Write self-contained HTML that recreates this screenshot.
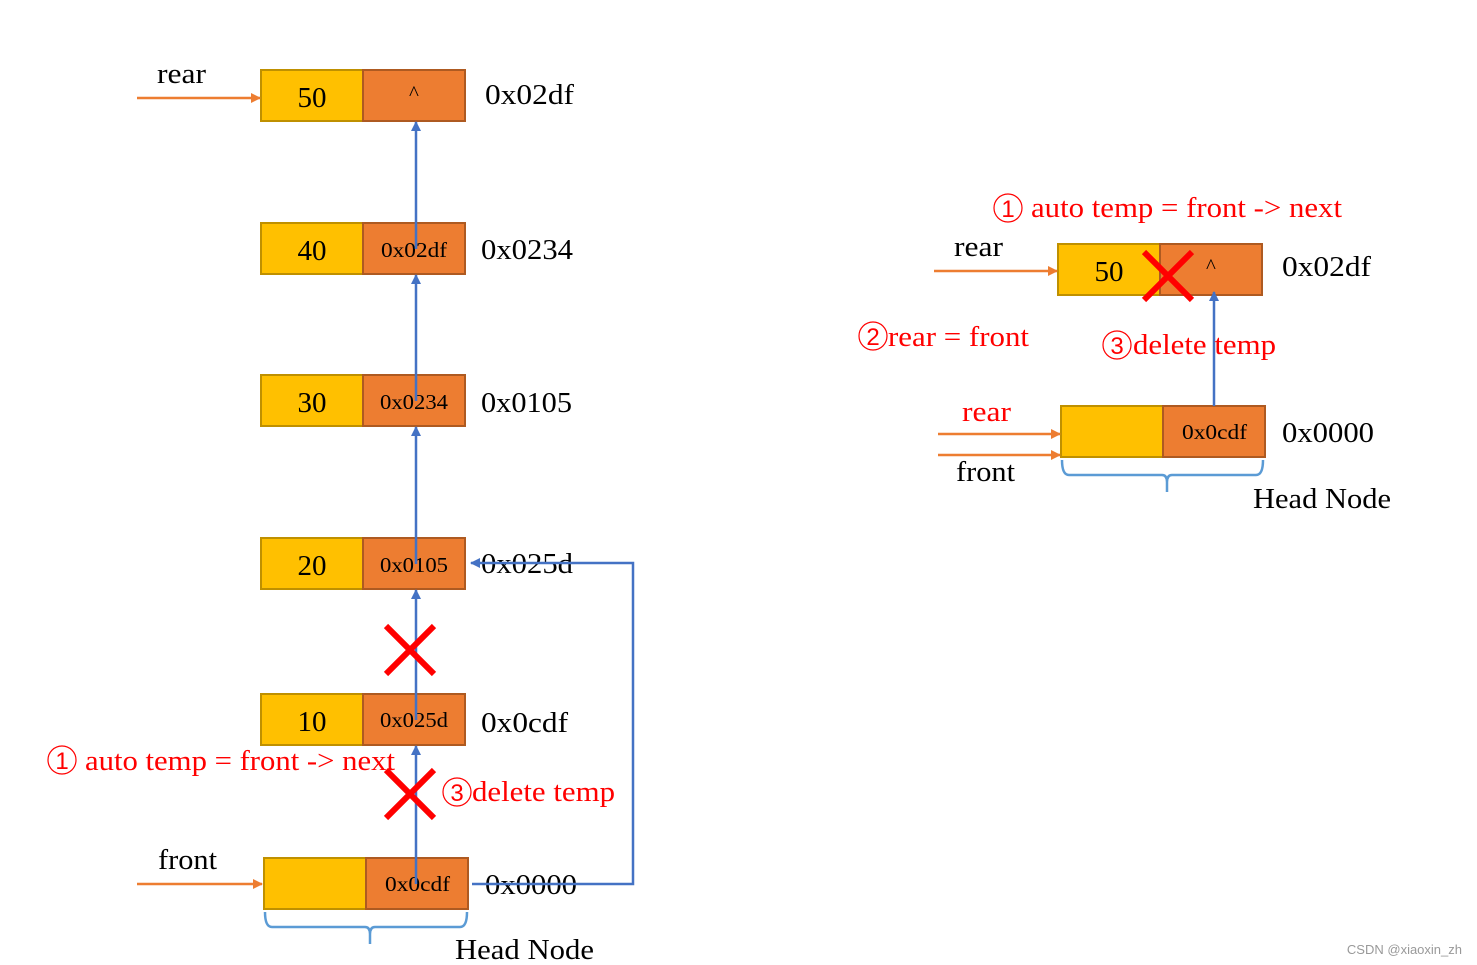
<!DOCTYPE html>
<html><head><meta charset="utf-8"><style>
html,body{margin:0;padding:0;background:#fff;}
svg{display:block;font-family:"Liberation Serif",serif;}
</style></head><body>
<svg width="1477" height="965" viewBox="0 0 1477 965" xmlns="http://www.w3.org/2000/svg">
<defs>
<marker id="ab" markerWidth="10" markerHeight="10" refX="9" refY="5" orient="auto" markerUnits="userSpaceOnUse"><path d="M0,0 L10,5 L0,10 z" fill="#4472C4"/></marker>
<marker id="ao" markerWidth="10" markerHeight="10" refX="9" refY="5" orient="auto" markerUnits="userSpaceOnUse"><path d="M0,0 L10,5 L0,10 z" fill="#ED7D31"/></marker>
</defs>
<g stroke-width="2">
<rect x="261" y="70" width="102" height="51" fill="#FFC000" stroke="#BF9000"/><rect x="363" y="70" width="102" height="51" fill="#ED7D31" stroke="#AE5A21"/>
<rect x="261" y="223" width="102" height="51" fill="#FFC000" stroke="#BF9000"/><rect x="363" y="223" width="102" height="51" fill="#ED7D31" stroke="#AE5A21"/>
<rect x="261" y="375" width="102" height="51" fill="#FFC000" stroke="#BF9000"/><rect x="363" y="375" width="102" height="51" fill="#ED7D31" stroke="#AE5A21"/>
<rect x="261" y="538" width="102" height="51" fill="#FFC000" stroke="#BF9000"/><rect x="363" y="538" width="102" height="51" fill="#ED7D31" stroke="#AE5A21"/>
<rect x="261" y="694" width="102" height="51" fill="#FFC000" stroke="#BF9000"/><rect x="363" y="694" width="102" height="51" fill="#ED7D31" stroke="#AE5A21"/>
<rect x="264" y="858" width="102" height="51" fill="#FFC000" stroke="#BF9000"/><rect x="366" y="858" width="102" height="51" fill="#ED7D31" stroke="#AE5A21"/>
<rect x="1058" y="244" width="102" height="51" fill="#FFC000" stroke="#BF9000"/><rect x="1160" y="244" width="102" height="51" fill="#ED7D31" stroke="#AE5A21"/>
<rect x="1061" y="406" width="102" height="51" fill="#FFC000" stroke="#BF9000"/><rect x="1163" y="406" width="102" height="51" fill="#ED7D31" stroke="#AE5A21"/>
</g>
<g font-size="29" fill="#000" text-anchor="middle">
<text x="312" y="107">50</text><text x="312" y="260">40</text><text x="312" y="412">30</text><text x="312" y="575">20</text><text x="312" y="731">10</text>
<text x="1109" y="281">50</text>
</g>
<g font-size="21" fill="#000">
<text x="409" y="100">^</text>
<text x="381" y="257" textLength="66" lengthAdjust="spacingAndGlyphs">0x02df</text>
<text x="380" y="409" textLength="68" lengthAdjust="spacingAndGlyphs">0x0234</text>
<text x="380" y="572" textLength="68" lengthAdjust="spacingAndGlyphs">0x0105</text>
<text x="380" y="727" textLength="68" lengthAdjust="spacingAndGlyphs">0x025d</text>
<text x="385" y="891" textLength="65" lengthAdjust="spacingAndGlyphs">0x0cdf</text>
<text x="1206" y="273">^</text>
<text x="1182" y="439" textLength="65" lengthAdjust="spacingAndGlyphs">0x0cdf</text>
</g>
<g font-size="29" fill="#000" lengthAdjust="spacingAndGlyphs">
<text x="485" y="104" textLength="89" lengthAdjust="spacingAndGlyphs">0x02df</text>
<text x="481" y="259" textLength="92" lengthAdjust="spacingAndGlyphs">0x0234</text>
<text x="481" y="412" textLength="91" lengthAdjust="spacingAndGlyphs">0x0105</text>
<text x="481" y="573" textLength="92" lengthAdjust="spacingAndGlyphs">0x025d</text>
<text x="481" y="732" textLength="87" lengthAdjust="spacingAndGlyphs">0x0cdf</text>
<text x="485" y="894" textLength="92" lengthAdjust="spacingAndGlyphs">0x0000</text>
<text x="157" y="83" textLength="49" lengthAdjust="spacingAndGlyphs">rear</text>
<text x="158" y="869" textLength="59" lengthAdjust="spacingAndGlyphs">front</text>
<text x="455" y="959" textLength="139" lengthAdjust="spacingAndGlyphs">Head Node</text>
<text x="1282" y="276" textLength="89" lengthAdjust="spacingAndGlyphs">0x02df</text>
<text x="1282" y="442" textLength="92" lengthAdjust="spacingAndGlyphs">0x0000</text>
<text x="954" y="256" textLength="49" lengthAdjust="spacingAndGlyphs">rear</text>
<text x="956" y="481" textLength="59" lengthAdjust="spacingAndGlyphs">front</text>
<text x="1253" y="508" textLength="138" lengthAdjust="spacingAndGlyphs">Head Node</text>
</g>
<g stroke="#4472C4" stroke-width="2.5" fill="none">
<line x1="416" y1="884" x2="416" y2="746" marker-end="url(#ab)"/>
<line x1="416" y1="720" x2="416" y2="590" marker-end="url(#ab)"/>
<line x1="416" y1="564" x2="416" y2="427" marker-end="url(#ab)"/>
<line x1="416" y1="401" x2="416" y2="275" marker-end="url(#ab)"/>
<line x1="416" y1="249" x2="416" y2="122" marker-end="url(#ab)"/>
<polyline points="472,884 633,884 633,563 471,563" marker-end="url(#ab)"/>
<line x1="1214" y1="406" x2="1214" y2="292" marker-end="url(#ab)"/>
</g>
<g stroke="#ED7D31" stroke-width="2.5">
<line x1="137" y1="98" x2="260" y2="98" marker-end="url(#ao)"/>
<line x1="137" y1="884" x2="262" y2="884" marker-end="url(#ao)"/>
<line x1="934" y1="271" x2="1057" y2="271" marker-end="url(#ao)"/>
<line x1="938" y1="434" x2="1060" y2="434" marker-end="url(#ao)"/>
<line x1="938" y1="455" x2="1060" y2="455" marker-end="url(#ao)"/>
</g>
<g stroke="#5B9BD5" stroke-width="2.5" fill="none">
<path d="M265,912 Q265,927 272,927 L365,927 Q370,927 370,934 L370,944 M370,934 Q370,927 375,927 L460,927 Q467,927 467,912"/>
<path d="M1062,460 Q1062,475 1069,475 L1162,475 Q1167,475 1167,482 L1167,492 M1167,482 Q1167,475 1172,475 L1256,475 Q1263,475 1263,460"/>
</g>
<g stroke="#FF0000" stroke-width="6">
<path d="M386,626 L434,674 M434,626 L386,674"/>
<path d="M386,770 L434,818 M434,770 L386,818"/>
<path d="M1144,252 L1192,300 M1192,252 L1144,300"/>
</g>
<g fill="#FF0000" font-size="28">
<text x="85" y="770" textLength="310" lengthAdjust="spacingAndGlyphs">auto temp = front -&gt; next</text>
<text x="472" y="801" textLength="143" lengthAdjust="spacingAndGlyphs">delete temp</text>
<text x="1031" y="217" textLength="311" lengthAdjust="spacingAndGlyphs">auto temp = front -&gt; next</text>
<text x="888" y="346" textLength="141" lengthAdjust="spacingAndGlyphs">rear = front</text>
<text x="1133" y="354" textLength="143" lengthAdjust="spacingAndGlyphs">delete temp</text>
<text x="962" y="421" textLength="49" lengthAdjust="spacingAndGlyphs">rear</text>
</g>
<g fill="none" stroke="#FF0000" stroke-width="1.2">
<circle cx="62" cy="760" r="14"/><circle cx="457" cy="792" r="14"/><circle cx="1008" cy="208" r="14"/><circle cx="873" cy="336" r="14"/><circle cx="1117" cy="345" r="14"/>
</g>
<g fill="#FF0000" font-size="24" text-anchor="middle" font-family="Liberation Sans,sans-serif">
<text x="62" y="769">1</text><text x="457" y="801">3</text><text x="1008" y="217">1</text><text x="873" y="345">2</text><text x="1117" y="354">3</text>
</g>
<text x="1462" y="954" font-size="13" fill="#999" text-anchor="end" font-family="Liberation Sans,sans-serif">CSDN @xiaoxin_zh</text>
</svg>
</body></html>
